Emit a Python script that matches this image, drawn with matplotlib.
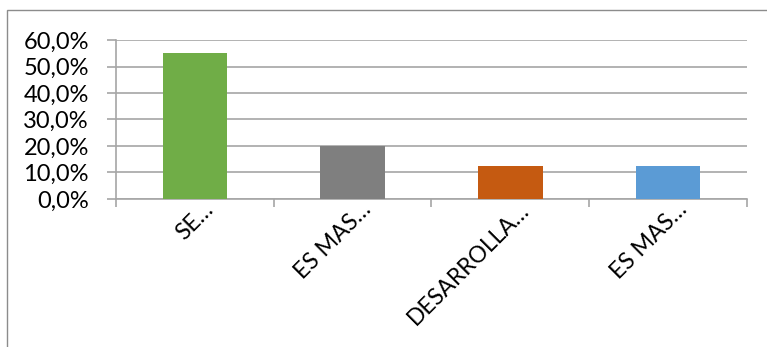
import numpy as np
import matplotlib.pyplot as plt
from matplotlib.patches import Rectangle
from matplotlib.ticker import FuncFormatter
from matplotlib.transforms import ScaledTranslation

# data
categorias = ["SE…", "ES MAS…", "DESARROLLA…", "ES MAS…"]
porcentajes = [55.0, 20.0, 12.5, 12.5]
colores = ["#70ad47", "#7f7f7f", "#c55a11", "#5b9bd5"]
yticks = [0, 10, 20, 30, 40, 50, 60]

plt.rcParams['font.family'] = ['Lato', 'DejaVu Sans']

W, H = 767, 347
fig = plt.figure(figsize=(W / 100, H / 100), dpi=100)
ax = fig.add_axes([116 / W, 1 - 199 / H, (747 - 116) / W, (199 - 40) / H])

x = np.arange(len(categorias))
ax.bar(x, porcentajes, width=0.41, color=colores, zorder=3)

ax.set_xlim(-0.5, len(categorias) - 0.5)
ax.set_ylim(0, 60)
ax.set_yticks(yticks)
ax.yaxis.set_major_formatter(FuncFormatter(lambda v, p: f"{v:.1f}%".replace(".", ",")))
ax.grid(axis="y", color="#a6a6a6", linewidth=1.2, zorder=0)

# category boundary ticks on x axis
ax.set_xticks(np.arange(-0.5, len(categorias), 1.0))
ax.set_xticklabels([])
ax.set_xticks(x, minor=True)
ax.set_xticklabels(categorias, minor=True, rotation=45, ha="right",
                   rotation_mode="anchor", fontsize=16.5)
ax.tick_params(axis="x", which="minor", length=0, pad=8)
ax.tick_params(axis="x", which="major", length=6, color="#a6a6a6", width=1.2)
ax.tick_params(axis="y", length=6.5, color="#a6a6a6", width=1.2, labelsize=17, pad=13)

# nudge the rotated labels to sit like the reference
off = ScaledTranslation(8 / 100, 11 / 100, fig.dpi_scale_trans)
for lab in ax.get_xticklabels(minor=True):
    lab.set_transform(lab.get_transform() + off)

for s in ["top", "right"]:
    ax.spines[s].set_visible(False)
for s in ["left", "bottom"]:
    ax.spines[s].set_color("#a6a6a6")
    ax.spines[s].set_linewidth(1.2)

# outer chart border (only top and left show in the crop)
fig.patches.append(Rectangle((7 / W, -0.1), 1.2, 1.1 - 10 / H,
                             transform=fig.transFigure, fill=False,
                             edgecolor="#8c8c8c", linewidth=1.0))

fig.savefig("out.png", dpi=100)
